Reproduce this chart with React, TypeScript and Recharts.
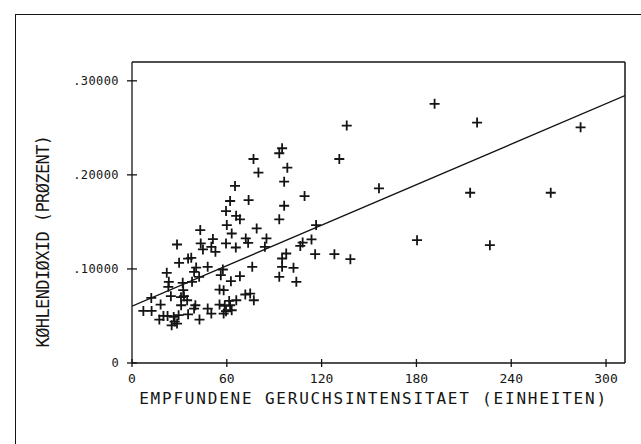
import React from 'react';
import {
  ScatterChart,
  Scatter,
  XAxis,
  YAxis,
  ReferenceLine,
  Label
} from 'recharts';

// Perceived odour intensity (units)
const odorValues = [
  191.5, 218.4, 283.9, 135.9, 131.2, 156.3, 214, 265, 180.4, 226.5,
  138.2, 128.1, 115.9, 116.5, 109.2, 113.6, 108, 106.5, 104, 102.2,
  98.3, 95, 93.2, 96.3, 96.3, 93.2, 97.6, 95, 95, 93.2,
  76.9, 80, 65.2, 62.1, 73.8, 59.5, 65.9, 68.3, 60, 63.1,
  78.9, 72, 73.5, 65.7, 59.5, 85.1, 84.1, 51.2, 50.2, 52.8,
  43.2, 43.5, 44.9, 37.5, 28.5, 47.9, 40.6, 42.5, 39.3, 57.5,
  56.2, 62.6, 68.3, 76.1, 29.8, 22, 23.3, 32.1, 38, 23,
  32.4, 24.6, 32.9, 34.9, 12.2, 18.1, 31.1, 40.1, 55.4, 58,
  55.4, 58.7, 62.1, 58, 63.1, 66, 71.7, 74.8, 77.1, 7.2,
  12.4, 17.3, 19.9, 25.1, 28.5, 29.5, 26.4, 35.5, 42.7, 47.9,
  50.2, 39.3, 35.5, 22.5, 27, 31, 59.5, 61.5
];

// Carbon dioxide (percent)
const co2Values = [
  0.2755, 0.2556, 0.2506, 0.2524, 0.2169, 0.1857, 0.181, 0.181, 0.1306, 0.1253,
  0.1104, 0.1157, 0.1157, 0.1466, 0.1775, 0.1314, 0.128, 0.1245, 0.0863, 0.1012,
  0.2077, 0.2283, 0.223, 0.1928, 0.1672, 0.1527, 0.1164, 0.1111, 0.1022, 0.0916,
  0.2169, 0.2024, 0.1882, 0.1722, 0.1732, 0.1615, 0.1565, 0.1527, 0.1466, 0.1377,
  0.1431, 0.1324, 0.1278, 0.1228, 0.1271, 0.1324, 0.1235, 0.1317, 0.1235, 0.1182,
  0.1413, 0.1271, 0.1207, 0.1118, 0.126, 0.1022, 0.1015, 0.0916, 0.0969, 0.0994,
  0.0934, 0.087, 0.0923, 0.1022, 0.1065, 0.0959, 0.0863, 0.0852, 0.0863, 0.081,
  0.0774, 0.071, 0.071, 0.0667, 0.0692, 0.0621, 0.0614, 0.0614, 0.0781, 0.0774,
  0.0621, 0.0607, 0.0614, 0.0525, 0.0561, 0.0667, 0.0728, 0.0738, 0.0667, 0.0554,
  0.0554, 0.0462, 0.05, 0.0401, 0.0419, 0.0508, 0.049, 0.0518, 0.0462, 0.0579,
  0.0525, 0.0579, 0.111, 0.05, 0.044, 0.07, 0.055, 0.066
];

// fitted regression line, end points
const fitX = [0, 312];
const fitY = [0.0604, 0.2843];

const xDomain = [0, 312];
const yDomain = [0, 0.32];
const xTicks = [0, 60, 120, 180, 240, 300];
const yTicks = [0, 0.1, 0.2, 0.3];
const yTickLabels = ['0', '.10000', '.20000', '.30000'];

const xTitle = 'EMPFUNDENE GERUCHSINTENSITAET (EINHEITEN)';
const yTitle = 'KØHLENDIØXID (PRØZENT)';

const points = odorValues.map((x, i) => ({ x, y: co2Values[i] }));

const ink = '#141414';
const mono = '"DejaVu Sans Mono", monospace';

const PlusShape = (props: any) => {
  const { cx, cy } = props;
  if (cx == null || cy == null) return <g />;
  return (
    <path
      d={`M${cx - 5},${cy}H${cx + 5}M${cx},${cy - 5}V${cy + 5}`}
      stroke={ink}
      strokeWidth={1.8}
      fill="none"
    />
  );
};

const XTick = (props: any) => {
  const { x, y, payload } = props;
  return (
    <g>
      <line x1={x} x2={x} y1={y - 4} y2={y + 4} stroke={ink} strokeWidth={1.3} />
      <text x={x} y={y + 20} textAnchor="middle" fontFamily={mono} fontSize={13} fill={ink}>
        {payload.value}
      </text>
    </g>
  );
};

const YTick = (props: any) => {
  const { x, y, payload } = props;
  const idx = yTicks.indexOf(payload.value);
  return (
    <g>
      <line x1={x - 5} x2={x + 5} y1={y} y2={y} stroke={ink} strokeWidth={1.3} />
      <text
        x={x - 13}
        y={y + 4}
        textAnchor="end"
        fontFamily={mono}
        fontSize={12}
        letterSpacing={0.4}
        fill={ink}
      >
        {idx >= 0 ? yTickLabels[idx] : ''}
      </text>
    </g>
  );
};

const App: React.FC = () => {
  return (
    <div style={{ position: 'absolute', left: 0, top: 0, width: 641, height: 444, background: '#fff' }}>
      <div style={{ position: 'absolute', left: 15, top: 14, width: 626, borderTop: `1.5px solid ${ink}` }} />
      <div style={{ position: 'absolute', left: 15, top: 14, height: 430, borderLeft: `1.5px solid ${ink}` }} />
      <ScatterChart width={641} height={444} margin={{ top: 62, right: 16, bottom: 0, left: 32 }}>
        <XAxis
          type="number"
          dataKey="x"
          domain={xDomain}
          ticks={xTicks}
          height={81}
          tickSize={0}
          tickMargin={0}
          tickLine={false}
          tick={<XTick />}
          stroke={ink}
          strokeWidth={1.3}
          allowDataOverflow
        >
          <Label
            content={(p: any) => (
              <text
                x={p.viewBox.x + p.viewBox.width / 2 - 5}
                y={p.viewBox.y + 41}
                textAnchor="middle"
                fontFamily={mono}
                fontSize={16}
                letterSpacing={1.8}
                fill={ink}
              >
                {xTitle}
              </text>
            )}
          />
        </XAxis>
        <YAxis
          type="number"
          dataKey="y"
          domain={yDomain}
          ticks={yTicks}
          width={100}
          tickSize={0}
          tickMargin={0}
          tickLine={false}
          tick={<YTick />}
          stroke={ink}
          strokeWidth={1.3}
          allowDataOverflow
        >
          <Label
            content={(p: any) => {
              const cx = 43;
              const cy = p.viewBox.y + p.viewBox.height / 2 + 29;
              return (
                <text
                  x={cx}
                  y={cy}
                  transform={`rotate(-90 ${cx} ${cy})`}
                  textAnchor="middle"
                  dominantBaseline="central"
                  fontFamily={mono}
                  fontSize={17}
                  letterSpacing={-0.6}
                  fill={ink}
                >
                  {yTitle}
                </text>
              );
            }}
          />
        </YAxis>
        {/* top and right sides of the plot frame */}
        <ReferenceLine y={yDomain[1]} stroke={ink} strokeWidth={1.5} ifOverflow="visible" />
        <ReferenceLine x={xDomain[1]} stroke={ink} strokeWidth={1.5} ifOverflow="visible" />
        <ReferenceLine
          segment={[
            { x: fitX[0], y: fitY[0] },
            { x: fitX[1], y: fitY[1] }
          ]}
          stroke={ink}
          strokeWidth={1.4}
          ifOverflow="hidden"
        />
        <Scatter data={points} shape={PlusShape} isAnimationActive={false} />
      </ScatterChart>
    </div>
  );
};

export default App;
